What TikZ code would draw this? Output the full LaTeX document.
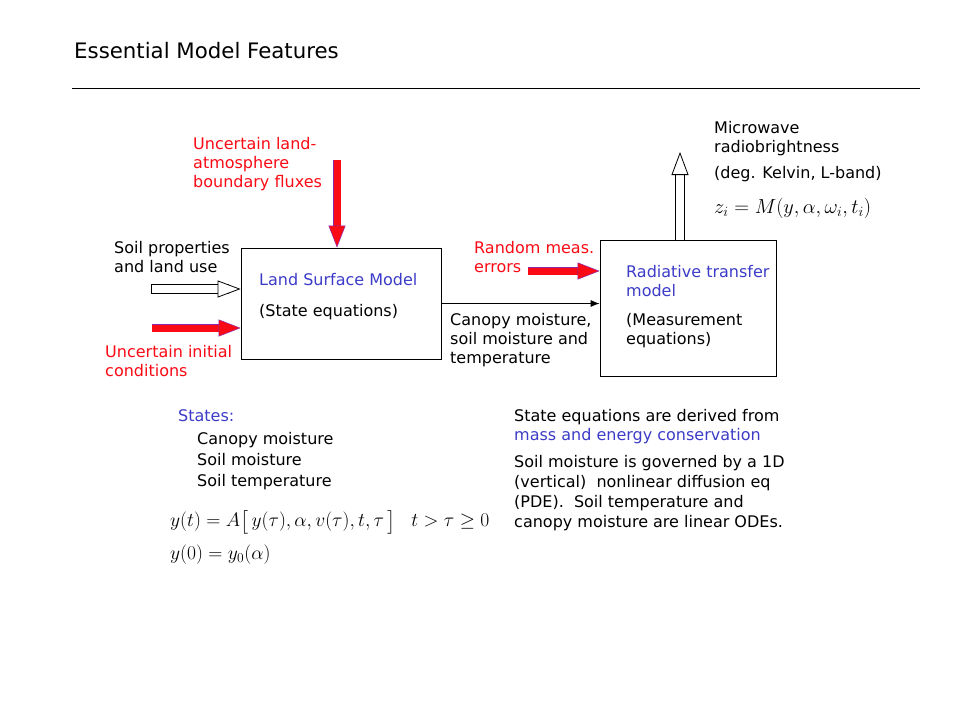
\documentclass[tikz,border=0pt]{standalone}
\usepackage{amsmath}
\usepackage{amssymb}
\usepackage{graphicx}
\usepackage[no-math]{fontspec}
\setmainfont{DejaVu Sans}
\usetikzlibrary{arrows.meta,positioning}
\definecolor{textred}{RGB}{250,10,20}
\definecolor{textblue}{RGB}{60,60,200}
\definecolor{arrowedge}{RGB}{140,40,170}
\newcommand{\bodyfont}{\fontsize{16}{19}\selectfont}
\newcommand{\bigeq}[2][1.13]{\scalebox{#1}{#2}}

\begin{document}
\begin{tikzpicture}[
    x=1pt, y=-1pt,
    every node/.style={inner sep=0pt, font=\bodyfont, align=left},
    txt/.style={anchor=north west},
    redtxt/.style={txt, text=textred},
    bluetxt/.style={txt, text=textblue},
    eqn/.style={anchor=west, font=\fontsize{17.28}{21}\selectfont},
    model/.style={
        rectangle,
        draw=black,
        line width=0.8pt,
        fill=white
    },
    redflux/.style={
        line width=7pt, textred,
        -{Triangle[length=22pt,width=17pt,fill=textred,color=arrowedge,line width=0.5pt]},
        preaction={draw=arrowedge, line width=8pt, arrows=-, shorten >=12pt, shorten <=-0.5pt}
    },
    openflow/.style={
        line width=7.5pt, white,
        -{Triangle[length=23pt,width=17pt,fill=white,color=black,line width=0.8pt]},
        preaction={draw=black, line width=9.1pt, arrows=-, shorten >=12pt, shorten <=-0.8pt}
    }
  ]
  \useasboundingbox (0,0) rectangle (960,720);

  % title and rule
  \node [txt, font=\fontsize{21.3}{25}\selectfont] (title) at (74,42) {Essential Model Features};
  \coordinate (ruleL) at (72,88);
  \coordinate (ruleR) at (920,88);
  \draw [line width=0.8pt] (ruleL) -- (ruleR);

  % the two models
  \node [model, minimum width=200pt, minimum height=111pt] (lsm) at (341,303.5) {};
  \node [model, minimum width=176pt, minimum height=136pt] (rtm) at (688,308) {};

  \node [bluetxt] (lsmname) at (259,273) {Land Surface Model};
  \node [txt] (lsmeq) at (259,304) {(State equations)};
  \node [bluetxt] (rtmname) at (626,265) {Radiative transfer\\model};
  \node [txt] (rtmeq) at (626,313) {(Measurement\\equations)};

  % inputs
  \node [redtxt] (fluxlbl) at (193,137) {Uncertain land-\\atmosphere\\boundary fluxes};
  \node [txt] (soillbl) at (114,241) {Soil properties\\and land use};
  \node [redtxt] (initlbl) at (105,345) {Uncertain initial\\conditions};
  \node [redtxt] (errlbl) at (474,241) {Random meas.\\errors};
  \node [txt] (statelbl) at (450,313) {Canopy moisture,\\soil moisture and\\temperature};

  \coordinate (fluxtop) at (337,160);
  \coordinate (soilin) at (152,289);
  \coordinate (initin) at (152,328);
  \coordinate (errin) at (528,271);
  \coordinate (mwtop) at (680,152);

  \draw [redflux] (fluxtop) -- (fluxtop |- lsm.north);
  \draw [openflow] (soilin) -- (soilin -| lsm.west);
  \draw [redflux] (initin) -- (initin -| lsm.west);
  \draw [redflux] (errin) -- (errin -| rtm.west);
  \draw [line width=0.8pt, -{Latex[length=9pt,width=7pt]}] (lsm.east) -- (lsm.east -| rtm.west);
  \draw [openflow] (mwtop |- rtm.north) -- (mwtop);

  % output
  \node [txt] (mwlbl) at (714,121) {Microwave\\radiobrightness};
  \node [txt] (unitlbl) at (714,166) {(deg. Kelvin, L-band)};
  \node [eqn] (measeq) at (714,208) {\bigeq[1.18]{$z_i = M(y,\alpha,\omega_i,t_i)$}};

  % states and notes
  \node [bluetxt] (stateshead) at (178,409) {States:};
  \node [txt, font=\fontsize{16}{21}\selectfont] (stateslist) at (197,432) {Canopy moisture\\Soil moisture\\Soil temperature};
  \node [eqn] (stateeq) at (170,522) {\bigeq{$y(t) = A\big[\,y(\tau),\alpha,v(\tau),t,\tau\,\big]\hspace{14pt} t > \tau \geq 0$}};
  \node [eqn] (initeq) at (170,555) {\bigeq{$y(0) = y_0(\alpha)$}};

  \node [txt] (note1) at (514,409) {State equations are derived from\\\textcolor{textblue}{mass and energy conservation}};
  \node [txt, font=\fontsize{16}{20}\selectfont] (note2) at (514,455) {Soil moisture is governed by a 1D\\(vertical)\ \ nonlinear diffusion eq\\(PDE).\ \ Soil temperature and\\canopy moisture are linear ODEs.};
\end{tikzpicture}
\end{document}
